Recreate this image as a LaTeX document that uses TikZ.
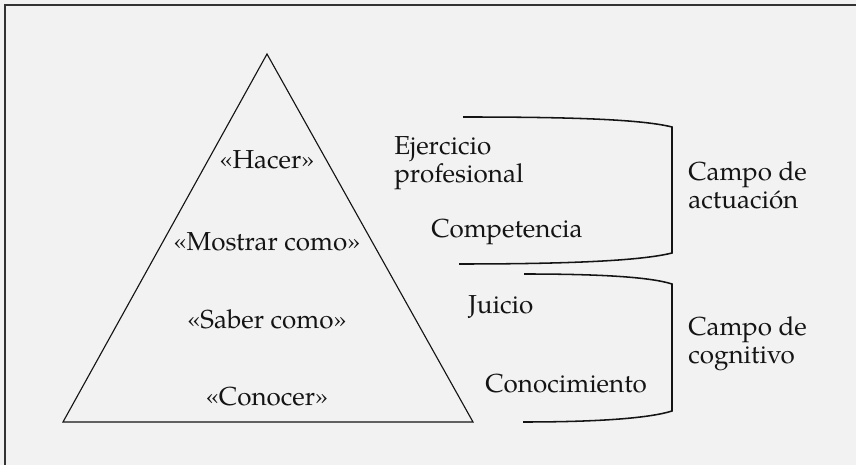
\documentclass[tikz,border=0pt]{standalone}
\usepackage{fontspec}
\setmainfont{texgyrepagella}[Extension=.otf, UprightFont=*-regular, BoldFont=*-bold, ItalicFont=*-italic, BoldItalicFont=*-bolditalic]
\usetikzlibrary{positioning, calc}

\begin{document}
\begin{tikzpicture}[
    x=0.025cm, y=-0.025cm,
    font=\fontsize{18.5}{20.5}\selectfont,
    level/.style={
        anchor=base, inner sep=0pt, text=ink
    },
    lbl/.style={
        anchor=base west, inner sep=0pt, align=left, text=ink
    },
    brace/.style={
        line width=1.1pt, line join=miter, draw=ink
    },
    frame/.style={
        draw=rim, line width=1.2pt
    },
]

\definecolor{bg}{RGB}{242,242,242}
\definecolor{rim}{RGB}{51,51,51}
\definecolor{ink}{RGB}{20,20,20}

\useasboundingbox (0,0) rectangle (856,465);
\fill[bg] (0,0) rectangle (856,465);
\draw[frame] (5,465) -- (5,5) -- (856,5);

% ============================================================
% Pyramid
% ============================================================

\coordinate (apex) at (267,54);
\coordinate (baseL) at (63,422);
\coordinate (baseR) at (473,422);
\draw[line width=0.8pt, line join=miter, draw=ink] (apex) -- (baseL) -- (baseR) -- cycle;

\node[level] (hacer)   at (267,169) {«Hacer»};
\node[level] (mostrar) at (267,251) {«Mostrar como»};
\node[level] (saber)   at (267,329) {«Saber como»};
\node[level] (conocer) at (267,406) {«Conocer»};

% ============================================================
% Levels on the right (base = last line)
% ============================================================

\node[lbl] (ejercicio)    at (394,183) {Ejercicio\\profesional};
\node[lbl] (competencia)  at (431,238) {Competencia};
\node[lbl] (juicio)       at (468,314) {Juicio};
\node[lbl] (conocimiento) at (485,393) {Conocimiento};

% ============================================================
% Brackets
% ============================================================

\coordinate (act1) at (463,117);
\coordinate (act2) at (672,127);
\coordinate (act3) at (672,253);
\coordinate (act4) at (459,264);
\draw[brace] (act1) .. controls (565,117) and (640,119) .. (act2)
    -- (act3) .. controls (640,261) and (565,264) .. (act4);

\coordinate (cog1) at (524,274);
\coordinate (cog2) at (672,284);
\coordinate (cog3) at (672,411);
\coordinate (cog4) at (523,422);
\draw[brace] (cog1) .. controls (600,274) and (650,277) .. (cog2)
    -- (cog3) .. controls (650,418) and (600,422) .. (cog4);

\node[lbl] (actuacion) at (688,209) {Campo de\\actuación};
\node[lbl] (cognitivo) at (688,364) {Campo de\\cognitivo};

\end{tikzpicture}
\end{document}
